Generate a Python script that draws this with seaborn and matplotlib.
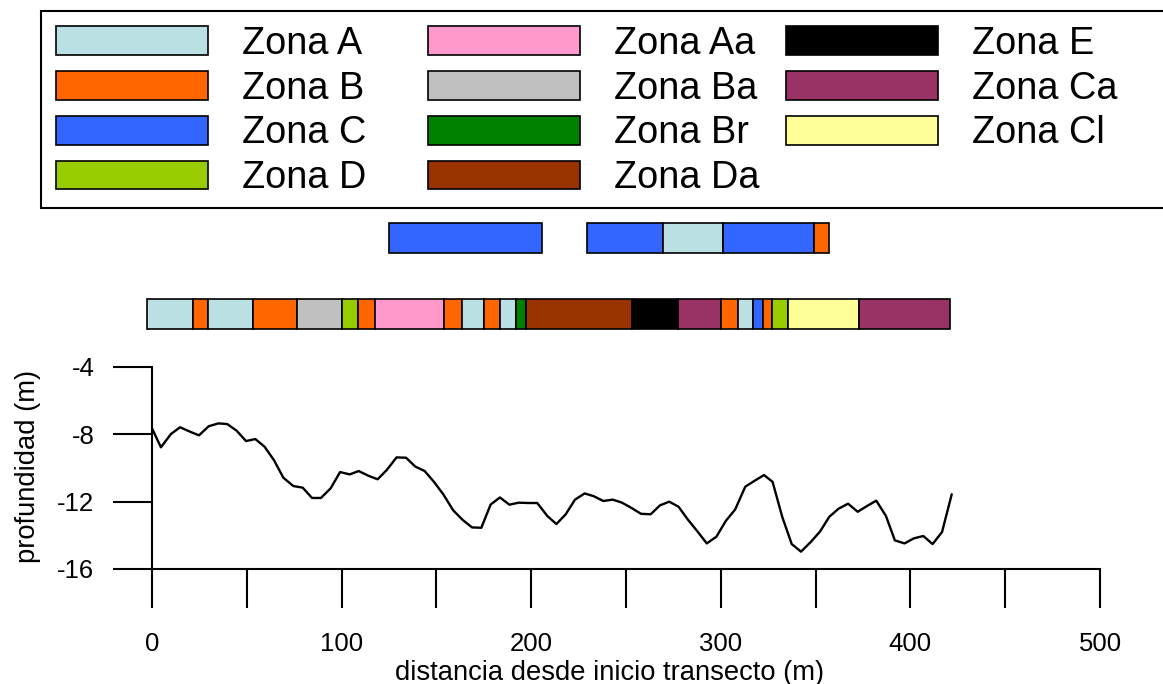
import matplotlib
matplotlib.use("Agg")
import matplotlib.pyplot as plt
from matplotlib.patches import Patch, Rectangle
import seaborn as sns
import numpy as np

# ---- data ----
distance = [0, 4.7, 10, 14.8, 20, 24.8, 29.9, 35, 39.7, 44.6,
            49.6, 54.5, 59.4, 64.3, 69.3, 74.5, 79.5, 84.4, 89.1, 94.2,
            99.2, 104.3, 109, 114.1, 119, 123.8, 129, 134, 138.9, 143.8,
            148.7, 153.6, 158.9, 163.9, 168.8, 173.7, 178.6, 183.5, 188.5, 193.4,
            198.3, 203.2, 208.5, 213.3, 218.2, 223.1, 228.2, 233.1, 238, 243,
            247.9, 253, 257.9, 263, 267.9, 272.8, 277.7, 282.6, 287.7, 292.6,
            297.7, 302.6, 307.6, 312.9, 317.8, 322.8, 327.3, 332.4, 337.4, 342.3,
            347.4, 352.3, 357.2, 362.1, 367.1, 372.2, 377.1, 382, 387.1, 391.8,
            396.9, 401.8, 406.8, 411.7, 416.7, 421.8]
depth = [-7.64, -8.77, -7.98, -7.58, -7.84, -8.06, -7.52, -7.35, -7.39, -7.78,
         -8.40, -8.28, -8.74, -9.53, -10.58, -11.07, -11.17, -11.78, -11.78, -11.21,
         -10.24, -10.38, -10.18, -10.46, -10.67, -10.12, -9.37, -9.39, -9.92, -10.18,
         -10.82, -11.56, -12.52, -13.09, -13.53, -13.55, -12.17, -11.75, -12.18, -12.06,
         -12.08, -12.08, -12.85, -13.33, -12.75, -11.88, -11.51, -11.68, -11.96, -11.88,
         -12.06, -12.38, -12.72, -12.75, -12.22, -12.00, -12.30, -13.06, -13.77, -14.48,
         -14.08, -13.15, -12.46, -11.11, -10.76, -10.42, -10.82, -12.90, -14.52, -14.97,
         -14.40, -13.78, -12.90, -12.42, -12.12, -12.60, -12.26, -11.94, -12.85, -14.30,
         -14.48, -14.18, -14.04, -14.52, -13.80, -11.56]

zone_names = ["Zona A", "Zona B", "Zona C", "Zona D", "Zona Aa", "Zona Ba",
              "Zona Br", "Zona Da", "Zona E", "Zona Ca", "Zona Cl"]
zone_colors = ["#BBE0E3", "#FF6600", "#3366FF", "#99CC00", "#FF99CC", "#C0C0C0",
               "#008000", "#993300", "#000000", "#993366", "#FFFF99"]

# lower strip (row 0)
low_zone = ["Zona A", "Zona B", "Zona A", "Zona B", "Zona Ba", "Zona D", "Zona B",
            "Zona Aa", "Zona B", "Zona A", "Zona B", "Zona A", "Zona Br", "Zona Da",
            "Zona E", "Zona Ca", "Zona B", "Zona A", "Zona C", "Zona B", "Zona D",
            "Zona Cl", "Zona Ca"]
low_start = [-2.5, 21.5, 29.7, 53.4, 76.6, 100.4, 108.5, 117.6, 154, 163.3, 175.1,
             183.5, 191.8, 197.1, 253, 277.6, 300.1, 309.3, 317.2, 322.1, 326.8,
             335.3, 372.9]
low_end = [21.5, 29.7, 53.4, 76.6, 100.4, 108.5, 117.6, 154, 163.3, 175.1, 183.5,
           191.8, 197.1, 253, 277.6, 300.1, 309.3, 317.2, 322.1, 326.8, 335.3,
           372.9, 420.9]

# upper strip (row 1)
up_zone = ["Zona C", "Zona C", "Zona A", "Zona C", "Zona B"]
up_start = [125.2, 229.3, 269.3, 301.3, 349.2]
up_end = [205.7, 269.3, 301.3, 349.2, 357.2]

x_ticks = [0, 50, 100, 150, 200, 250, 300, 350, 400, 450, 500]
x_ticklabels = ["0", "", "100", "", "200", "", "300", "", "400", "", "500"]
y_ticks = [-16, -12, -8, -4]
y_ticklabels = ["-16", "-12", "-8", "-4"]

# ---- style ----
sns.set_theme(style="white")
plt.rcParams['font.family'] = ['Liberation Sans', 'DejaVu Sans']
plt.rcParams['axes.unicode_minus'] = False
plt.rcParams['text.color'] = 'black'

W, H = 1163, 684
fig = plt.figure(figsize=(W / 100, H / 100), dpi=100)
color_map = dict(zip(zone_names, zone_colors))

# main profile axes
ax = fig.add_axes([152 / W, (H - 569) / H, 948 / W, 202 / H])
sns.lineplot(x=distance, y=depth, color="black", linewidth=1.7, ax=ax,
             estimator=None, sort=False)
ax.set_xlim(0, 500)
ax.set_ylim(-16, -4)
for s in ["top", "right"]:
    ax.spines[s].set_visible(False)
for s in ["left", "bottom"]:
    ax.spines[s].set_color("black")
    ax.spines[s].set_linewidth(1.5)
ax.set_xticks(x_ticks)
ax.set_xticklabels(x_ticklabels)
ax.set_yticks(y_ticks)
ax.set_yticklabels(y_ticklabels)
ax.tick_params(axis="both", which="both", bottom=True, left=True, direction="out",
               length=28, width=1.5, color="black", labelsize=18.5, labelcolor="black")
ax.tick_params(axis="x", pad=17.5)
ax.tick_params(axis="y", pad=13.5)
ax.set_xlabel("distancia desde inicio transecto (m)", fontsize=19.7, color="black")
ax.set_ylabel("profundidad (m)", fontsize=19.7, color="black")
ax.xaxis.set_label_coords(0.483, -0.452)
ax.yaxis.set_label_coords(-0.117, 0.51)
ax.grid(False)

# zone strips axes
bx = fig.add_axes([152 / W, (H - 329) / H, 948 / W, 106 / H])
bh = 30 / 76
for row, (zs, ss, es) in enumerate([(low_zone, low_start, low_end),
                                    (up_zone, up_start, up_end)]):
    bars = bx.barh([row] * len(zs), np.array(es) - np.array(ss), left=ss,
                   height=bh, color=[color_map[z] for z in zs],
                   edgecolor="black", linewidth=1.2)
    for b in bars:
        b.set_clip_on(False)
bx.set_xlim(0, 500)
bx.set_ylim(-bh / 2, 1 + bh / 2)
bx.axis("off")

# legend (frame + three columns)
frame = Rectangle((41 / W, (H - 208) / H), 1130 / W, 197 / H, transform=fig.transFigure,
                  facecolor="white", edgecolor="black", linewidth=1.5, zorder=0)
fig.patches.append(frame)
fs = 27.3
fs_px = fs * 100 / 72
handles = [Patch(facecolor=c, edgecolor="black", linewidth=1.2) for c in zone_colors]
col_groups = [(0, 4), (4, 8), (8, 11)]
col_x = [56, 428, 786]
for (a, b), cx in zip(col_groups, col_x):
    fig.legend(handles[a:b], zone_names[a:b], ncol=1, loc="upper left",
               bbox_to_anchor=(cx / W, 1 - 26 / H), bbox_transform=fig.transFigure,
               frameon=False, fontsize=fs, labelcolor="black",
               handlelength=152 / fs_px, handleheight=30 / fs_px,
               handletextpad=34 / fs_px, labelspacing=0.23,
               borderpad=0, borderaxespad=0)

fig.savefig("out.png", dpi=100)
